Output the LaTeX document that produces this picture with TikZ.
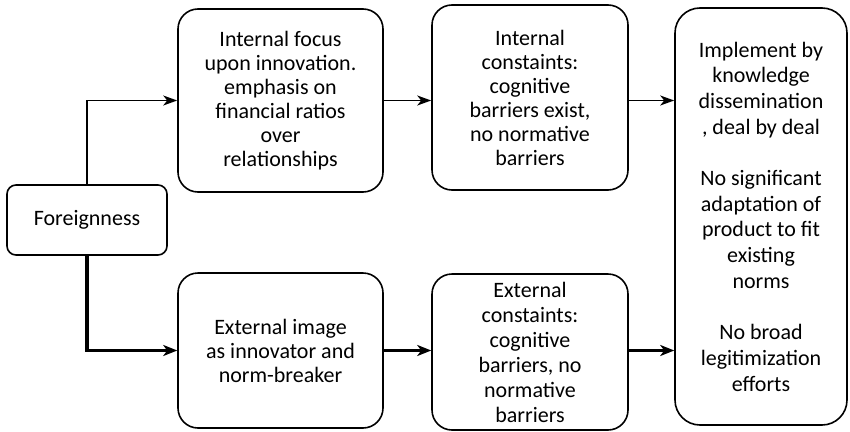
\documentclass[tikz,border=0pt]{standalone}
\usepackage{fontspec}
\setmainfont{Carlito}
\usetikzlibrary{arrows.meta}
\begin{document}
\begin{tikzpicture}[x=1pt,y=-1pt,
  box/.style={draw=black, line width=1.6pt, rounded corners=20pt, inner sep=0pt,
    align=center, font=\fontsize{22}{24}\selectfont},
  thinlink/.style={draw=black, line width=1.5pt, -{Stealth[length=14pt,width=10pt,inset=4pt]}},
  thicklink/.style={draw=black, line width=3.6pt, -{Stealth[length=14pt,width=11pt,inset=4pt]}}]
\useasboundingbox (0,0) rectangle (850,431);

% source box
\node[box, rounded corners=9pt, minimum width=160pt, minimum height=70pt]
  (F) at (87,220) {Foreignness};

% internal branch
\node[box, minimum width=205pt, minimum height=183pt] (B1) at (280.5,100.5)
  {Internal focus\\upon innovation.\\emphasis on\\financial ratios\\over\\relationships};
\node[box, minimum width=196pt, minimum height=185pt] (B2) at (530,97.5)
  {Internal\\constaints:\\cognitive\\barriers exist,\\no normative\\barriers};

% external branch
\node[box, minimum width=205pt, minimum height=155pt] (B4) at (280.5,350.5)
  {External image\\as innovator and\\norm-breaker};
\node[box, font=\fontsize{22}{25}\selectfont, minimum width=196pt, minimum height=156pt]
  (B5) at (530,352) {External\\constaints:\\cognitive\\barriers, no\\normative\\barriers};

% outcome box
\node[box, rounded corners=25pt, font=\fontsize{22}{25.7}\selectfont,
  minimum width=172pt, minimum height=417pt] (B3) at (761,216.5)
  {Implement by\\knowledge\\dissemination\\, deal by deal\\[25.7pt]No significant\\adaptation of\\product to fit\\existing\\norms\\[25.7pt]No broad\\legitimization\\efforts};

% connectors
\draw[thinlink] (F.north) |- (B1.west);
\draw[thinlink] (B1.east) -- (B1.east -| B2.west);
\draw[thinlink] (B2.east |- B1.east) -- (B1.east -| B3.west);
\draw[thicklink] (F.south) |- (B4.west);
\draw[thicklink] (B4.east) -- (B4.east -| B5.west);
\draw[thicklink] (B5.east |- B4.east) -- (B4.east -| B3.west);
\end{tikzpicture}
\end{document}
